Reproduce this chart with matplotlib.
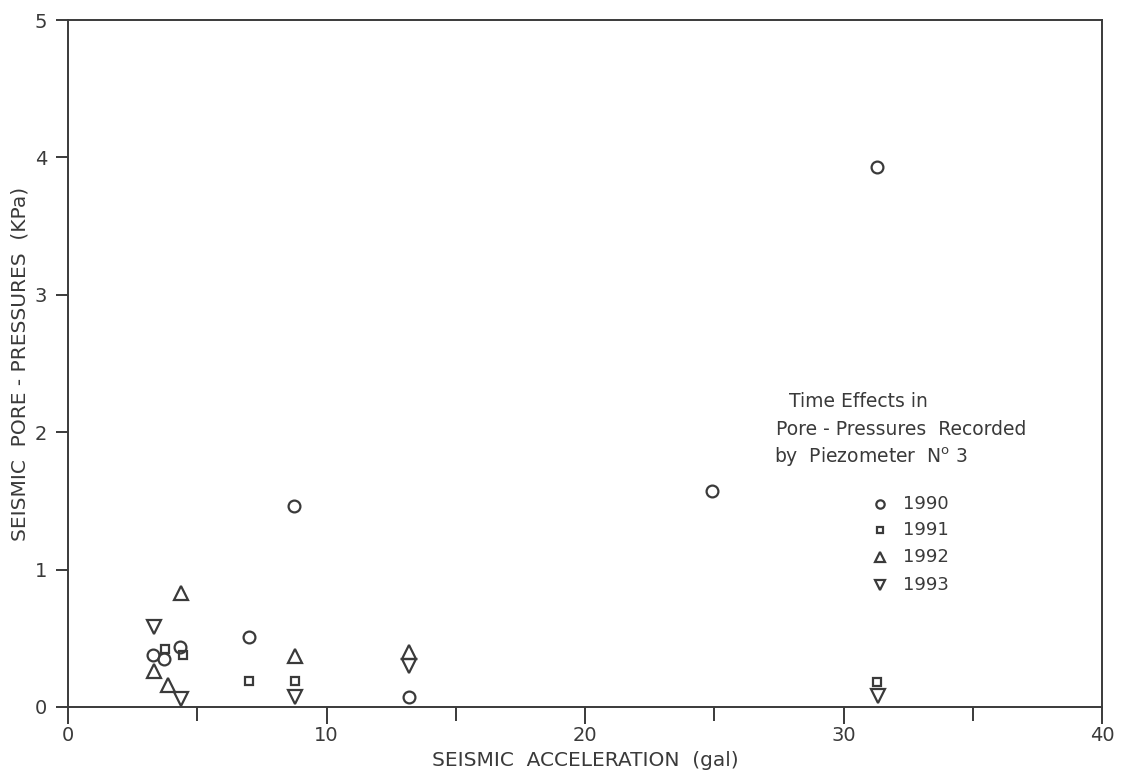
import matplotlib.pyplot as plt
import numpy as np

# values (gal, kPa)
x_1990 = [3.30, 3.73, 4.33, 7.00, 8.75, 13.20, 24.90, 31.30]
y_1990 = [0.38, 0.35, 0.44, 0.51, 1.46, 0.075, 1.57, 3.93]
x_1991 = [3.75, 4.44, 7.00, 8.80, 31.30]
y_1991 = [0.42, 0.38, 0.19, 0.19, 0.18]
x_1992 = [3.34, 3.86, 4.36, 8.80, 13.20]
y_1992 = [0.26, 0.16, 0.83, 0.37, 0.40]
x_1993 = [3.34, 4.37, 8.80, 13.20, 31.35]
y_1993 = [0.58, 0.06, 0.075, 0.30, 0.08]

years = ['1990', '1991', '1992', '1993']
xticks = [0, 10, 20, 30, 40]
minor_xticks = [5, 15, 25, 35]
yticks = [0, 1, 2, 3, 4, 5]

ink = '#3a3a3a'
plt.rcParams['font.family'] = ['DejaVu Sans']

figsize_px = np.array([1122, 777])
dpi = 100
fig = plt.figure(figsize=figsize_px / dpi, dpi=dpi)
ax = fig.add_axes([0.0606, 0.0901, 0.9216, 0.8841])

mk = dict(linestyle='none', markerfacecolor='none', markeredgecolor=ink, markeredgewidth=1.6)
ax.plot(x_1990, y_1990, marker='o', markersize=8.5, **mk)
ax.plot(x_1991, y_1991, marker='s', markersize=5.5, **mk)
ax.plot(x_1992, y_1992, marker='^', markersize=9.5, **mk)
ax.plot(x_1993, y_1993, marker='v', markersize=9.5, **mk)

# legend block, drawn by hand to sit where the original does
leg_y = [1.48, 1.29, 1.09, 0.89]
leg_m = [('o', 6), ('s', 4.5), ('^', 7.5), ('v', 7.5)]
for yy, (m, s), lab in zip(leg_y, leg_m, years):
    ax.plot([31.4], [yy], marker=m, markersize=s, **mk)
    ax.text(32.3, yy, lab, fontsize=13, color=ink, va='center', ha='left')

ax.text(27.9, 2.22, 'Time Effects in', fontsize=13.5, color=ink, va='center')
ax.text(27.4, 2.02, 'Pore - Pressures  Recorded', fontsize=13.5, color=ink, va='center')
ax.text(27.3, 1.82, 'by  Piezometer  N$^{\\mathrm{o}}$ 3', fontsize=13.5, color=ink, va='center')

ax.set_xlim(0, 40)
ax.set_ylim(0, 5)
ax.set_xticks(xticks)
ax.set_xticks(minor_xticks, minor=True)
ax.set_yticks(yticks)
ax.tick_params(axis='both', which='both', direction='out', color=ink, width=1.4,
               labelcolor=ink, labelsize=14)
ax.tick_params(axis='x', which='major', length=12, pad=2)
ax.tick_params(axis='x', which='minor', length=10)
ax.tick_params(axis='y', length=9, pad=6)
for sp in ax.spines.values():
    sp.set_color(ink)
    sp.set_linewidth(1.4)

ax.set_xlabel('SEISMIC  ACCELERATION  (gal)', fontsize=14.5, color=ink, labelpad=4)
ax.set_ylabel('SEISMIC  PORE - PRESSURES  (KPa)', fontsize=14.5, color=ink, labelpad=4)

fig.savefig('out.png', dpi=dpi)
